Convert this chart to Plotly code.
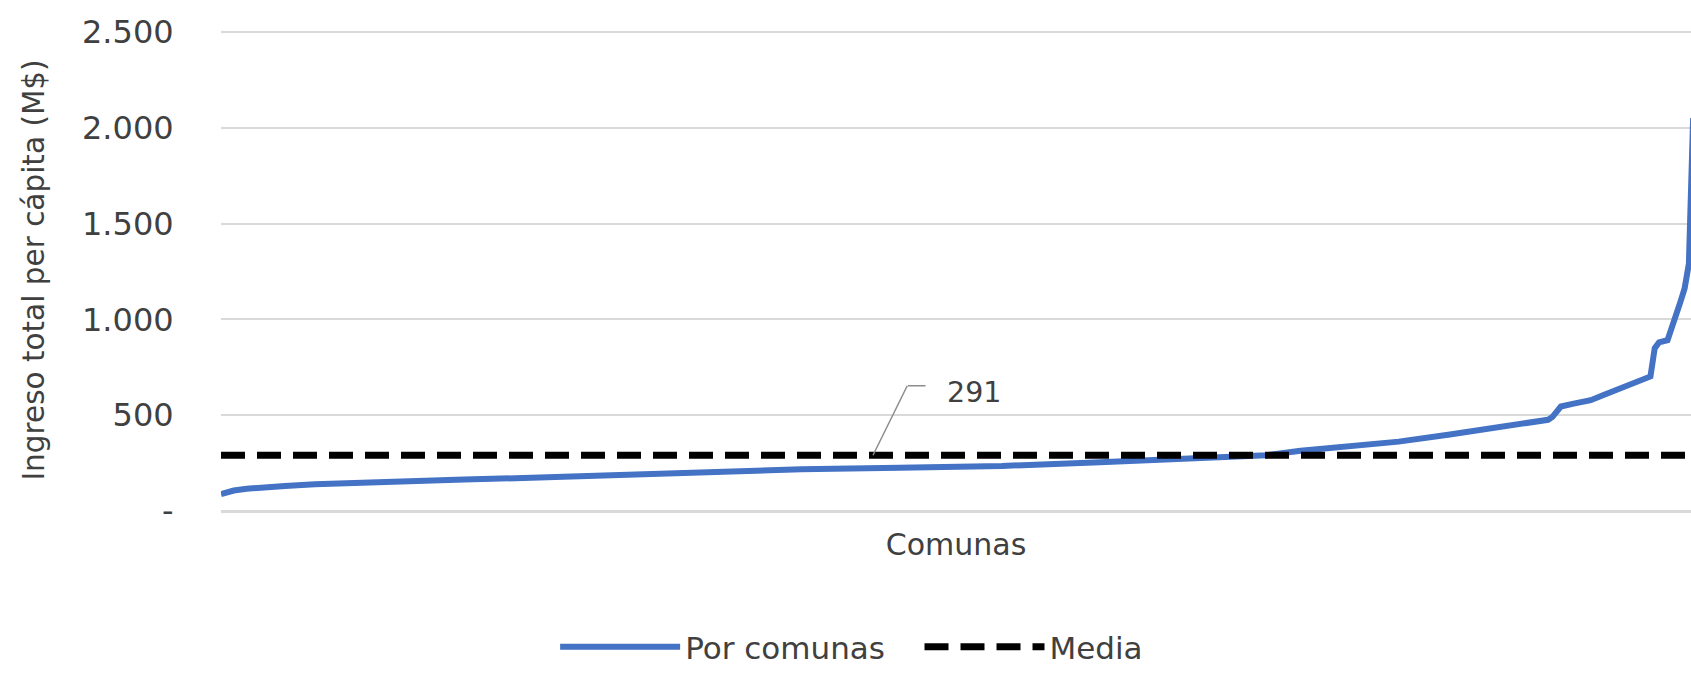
import plotly.graph_objects as go

# Comunas ordered by income (rank) and income per cápita (M$)
comuna_rank = [1, 2, 4, 7, 11, 16, 23, 35, 47, 58, 70, 82, 93, 108, 122, 137, 160, 184,
               207, 230, 246, 254, 266, 277, 289, 300, 306, 312, 313, 315, 318, 322, 325,
               328, 331, 333, 335, 336, 337, 338, 340, 341, 342, 343, 344, 345, 346]
ingreso = [88, 97, 107, 116, 124, 131, 140, 151, 160, 165, 171, 180, 190, 200, 210, 218,
           226, 235, 255, 272, 291, 314, 340, 362, 399, 435, 452, 476, 490, 545, 560, 578,
           605, 632, 655, 672, 692, 702, 850, 880, 891, 950, 1021, 1090, 1161, 1290, 2050]

media_value = 291
media_x = [1, 346]
media_y = [media_value, media_value]

y_tickvals = [0, 500, 1000, 1500, 2000, 2500]
y_ticktext = ["-", "500", "1.000", "1.500", "2.000", "2.500"]

FONT = "DejaVu Sans"
TXT = "#404040"

fig = go.Figure()
fig.add_trace(go.Scatter(
    x=comuna_rank, y=ingreso, mode="lines", name="Por comunas\u00a0\u00a0\u00a0",
    line=dict(color="#4472C4", width=6),
))
fig.add_trace(go.Scatter(
    x=media_x, y=media_y, mode="lines", name="Media",
    line=dict(color="#000000", width=7, dash="24px,12px"),
))

# leader line for the mean label
fig.add_annotation(x=153.8, y=media_value, xref="x", yref="y", text="",
                   showarrow=True, arrowhead=0, arrowwidth=1.5, arrowcolor="#8c8c8c",
                   ax=35, ay=-71, axref="pixel", ayref="pixel")
fig.add_annotation(x=162.0, y=653, xref="x", yref="y", text="",
                   showarrow=True, arrowhead=0, arrowwidth=1.5, arrowcolor="#8c8c8c",
                   ax=19, ay=0, axref="pixel", ayref="pixel")
fig.add_annotation(x=177.5, y=620, xref="x", yref="y", text=str(media_value),
                   showarrow=False, font=dict(family=FONT, size=28.5, color=TXT))

fig.update_layout(
    width=1691, height=674,
    margin=dict(l=221, r=0, t=29.1, b=153),
    paper_bgcolor="white", plot_bgcolor="white",
    font=dict(family=FONT, size=31, color=TXT),
    showlegend=True,
    legend=dict(orientation="h", x=0.429, xanchor="center", y=-0.2826, yanchor="middle",
                font=dict(family=FONT, size=31, color=TXT), itemwidth=120,
                bgcolor="rgba(0,0,0,0)"),
)
fig.update_xaxes(
    range=[1, 345.5], showgrid=False, zeroline=False, showline=False,
    showticklabels=False, ticks="",
    title=dict(text="Comunas", font=dict(family=FONT, size=30, color=TXT), standoff=22),
)
fig.update_yaxes(
    range=[0, 2515], tickvals=y_tickvals, ticktext=y_ticktext,
    showgrid=True, gridcolor="#d9d9d9", gridwidth=2,
    zeroline=True, zerolinecolor="#d9d9d9", zerolinewidth=2.5, showline=False,
    ticks="outside", ticklen=40, tickcolor="rgba(0,0,0,0)",
    tickfont=dict(family=FONT, size=32, color=TXT),
    title=dict(text="Ingreso total per cápita (M$)", font=dict(family=FONT, size=29.5, color=TXT),
               standoff=28),
)

post_js = """
document.documentElement.style.margin='0';
document.documentElement.style.padding='0';
document.documentElement.style.overflow='hidden';
document.body.style.margin='0';
document.body.style.padding='0';
document.body.style.overflow='hidden';
"""

fig.write_html("out.html", config={"displayModeBar": False}, post_script=post_js)
